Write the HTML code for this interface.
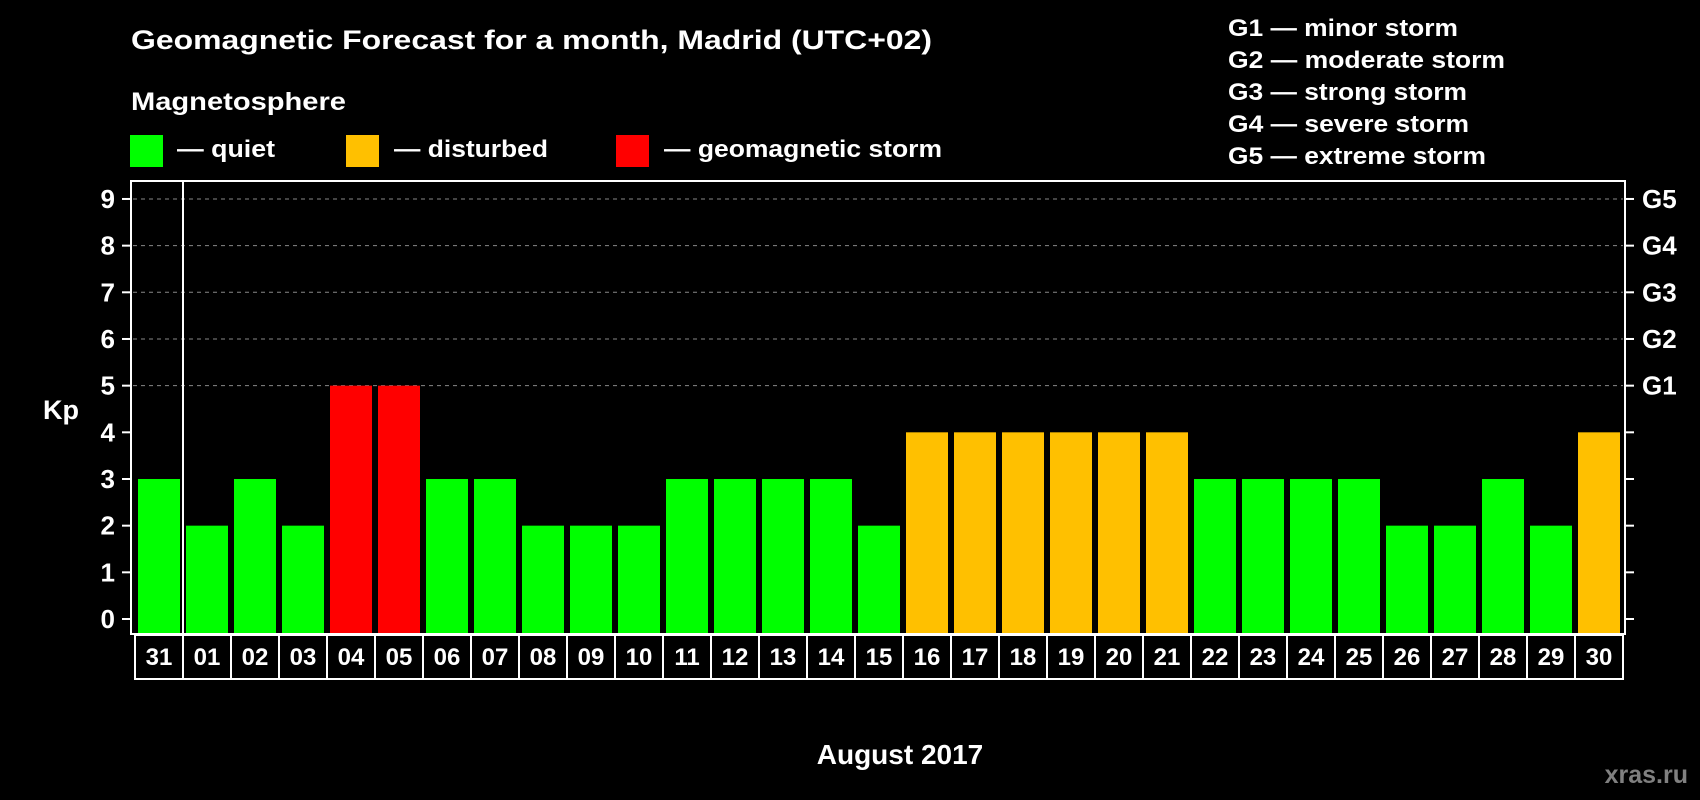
<!DOCTYPE html>
<html><head><meta charset="utf-8"><style>
html,body{margin:0;padding:0;background:#000;}
svg{display:block;font-family:"Liberation Sans",sans-serif;font-weight:bold;}
</style></head><body>
<svg id="chart" width="1700" height="800" viewBox="0 0 1700 800">
<rect width="1700" height="800" fill="#000"/>
<text x="131" y="49" fill="#fff" font-size="27" textLength="801" lengthAdjust="spacingAndGlyphs">Geomagnetic Forecast for a month, Madrid (UTC+02)</text>
<text x="131" y="110" fill="#fff" font-size="25" textLength="215" lengthAdjust="spacingAndGlyphs">Magnetosphere</text>
<g>
<rect x="130" y="135" width="33" height="32" fill="#00ff00"/>
<text x="177" y="157" fill="#fff" font-size="24" textLength="98" lengthAdjust="spacingAndGlyphs">— quiet</text></g>
<g>
<rect x="346" y="135" width="33" height="32" fill="#ffc000"/>
<text x="394" y="157" fill="#fff" font-size="24" textLength="154" lengthAdjust="spacingAndGlyphs">— disturbed</text></g>
<g>
<rect x="616" y="135" width="33" height="32" fill="#ff0000"/>
<text x="664" y="157" fill="#fff" font-size="24" textLength="278" lengthAdjust="spacingAndGlyphs">— geomagnetic storm</text></g>
<g fill="#fff" font-size="24">
<text x="1228" y="36" textLength="230" lengthAdjust="spacingAndGlyphs">G1 — minor storm</text>
<text x="1228" y="68" textLength="277" lengthAdjust="spacingAndGlyphs">G2 — moderate storm</text>
<text x="1228" y="100" textLength="239" lengthAdjust="spacingAndGlyphs">G3 — strong storm</text>
<text x="1228" y="132" textLength="241" lengthAdjust="spacingAndGlyphs">G4 — severe storm</text>
<text x="1228" y="164" textLength="258" lengthAdjust="spacingAndGlyphs">G5 — extreme storm</text>
</g>
<g id="plot"></g>
<text x="900" y="764" fill="#fff" font-size="28" text-anchor="middle">August 2017</text>
<text x="1688" y="783" fill="#808080" font-size="25" text-anchor="end">xras.ru</text>
<text x="43" y="419" fill="#fff" font-size="27">Kp</text>
</svg>
<script>
const days = ["31","01","02","03","04","05","06","07","08","09","10","11","12","13","14","15","16","17","18","19","20","21","22","23","24","25","26","27","28","29","30"];
const kpValues = [3,2,3,2,5,5,3,3,2,2,2,3,3,3,3,2,4,4,4,4,4,4,3,3,3,3,2,2,3,2,4];
const yTicks = [0,1,2,3,4,5,6,7,8,9];
const gLabels = {5:"G1",6:"G2",7:"G3",8:"G4",9:"G5"};

const NS="http://www.w3.org/2000/svg";
const plot=document.getElementById('plot');
const pLeft=131,pRight=1625,pTop=181,pBottom=634;
const y0=619,unit=46.67;
const x0=135,pitch=48;
function yScale(v){return y0-v*unit;}
function xScale(i){return x0+i*pitch;}
function mk(tag,attrs){const e=document.createElementNS(NS,tag);for(const k in attrs)e.setAttribute(k,attrs[k]);plot.appendChild(e);return e;}
function color(v){return v>=5?"#ff0000":(v>=4?"#ffc000":"#00ff00");}

yTicks.forEach(t=>{
  const y=yScale(t);
  if(t>=5){const g=mk('line',{x1:pLeft+2,x2:pRight-2,y1:y,y2:y,stroke:'#888','stroke-width':1,'stroke-dasharray':'4,4'});
  
  }
  const tl=mk('line',{x1:pLeft-9,x2:pLeft,y1:y,y2:y,stroke:'#fff','stroke-width':2});
  
  
  const tr=mk('line',{x1:pRight,x2:pRight+9,y1:y,y2:y,stroke:'#fff','stroke-width':2});
  
  
  const lb=mk('text',{x:115,y:y+9,fill:'#fff','font-size':26,'text-anchor':'end'});
  lb.textContent=t;
  
  
  if(gLabels[t]){const g=mk('text',{x:1642,y:y+9,fill:'#fff','font-size':26});
    g.textContent=gLabels[t];
    
    }
});

kpValues.forEach((v,i)=>{
  const r=mk('rect',{x:xScale(i)+3,y:yScale(v),width:42,height:pBottom-yScale(v)-1,fill:color(v)});
  
  
});
const fr=mk('rect',{x:pLeft,y:pTop,width:pRight-pLeft,height:pBottom-pTop,fill:'none',stroke:'#fff','stroke-width':2});


const sep=mk('line',{x1:183,x2:183,y1:pTop,y2:pBottom,stroke:'#fff','stroke-width':2});



days.forEach((d,i)=>{
  const b=mk('rect',{x:xScale(i),y:635,width:pitch,height:44,fill:'none',stroke:'#fff','stroke-width':2});
  
  
  const t=mk('text',{x:xScale(i)+pitch/2,y:665,fill:'#fff','font-size':24,'text-anchor':'middle'});
  t.textContent=d;
  
  
});
</script>
</body></html>
